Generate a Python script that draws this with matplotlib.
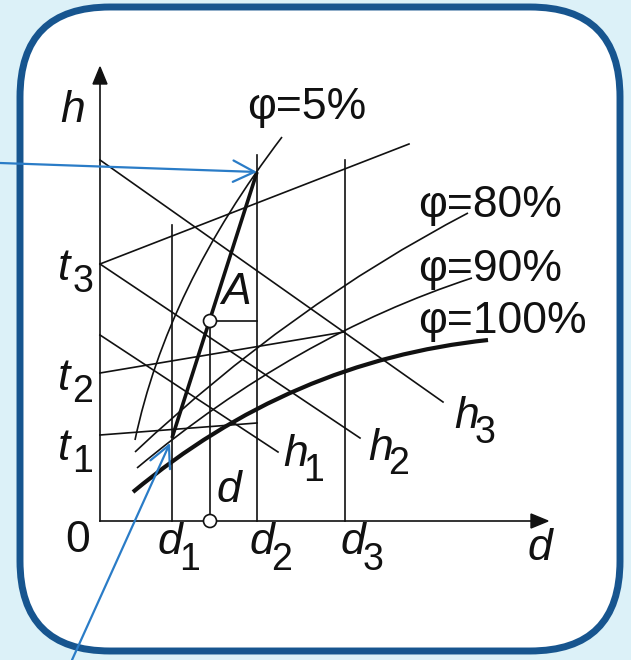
import matplotlib
matplotlib.use("Agg")
import matplotlib.pyplot as plt
from matplotlib.patches import FancyBboxPatch, Polygon, Circle, PathPatch
from matplotlib.path import Path

# ---- diagram data (d along x, h along y, origin at the axes' crossing) ----
d_names = ["d_1", "d", "d_2", "d_3"]
d_values = [72, 110, 157, 245]
d_tops = [296, 200, 366, 361]

t_names = ["t_1", "t_2", "t_3"]
t_start = [86, 148, 257]          # isotherm intercepts on the h axis
t_end_d = [157, 244, 309]
t_end_h = [98, 189, 377]

h_names = ["h_1", "h_2", "h_3"]
h_start = [186, 257, 361]         # enthalpy line intercepts on the h axis
h_end_d = [178, 260, 343]
h_end_h = [69, 83, 119]

phi_labels = ["φ=5%", "φ=80%", "φ=90%", "φ=100%"]
phi_label_pos = [(207, 414), (390, 316), (390, 251), (402, 199)]
phi_p0 = [(35, 81), (35, 69), (37, 53), (33, 29)]
phi_ctrl = [(67, 233), (190, 215), (195, 185), (190, 160)]
phi_p2 = [(182, 384), (368, 308), (372, 243), (388, 181)]
phi_lw = [1.2, 1.2, 1.2, 3.0]

point_1 = (72, 83)
point_A = (110, 200)
point_2 = (157, 349)

h_axis_top = 454
d_axis_end = 448

BLUE = "#2a7cc7"
FRAME = "#17558f"
BG = "#dcf1f8"

fig = plt.figure(figsize=(6.31, 6.60), dpi=100, facecolor=BG)
ax = fig.add_axes([0, 0, 1, 1])
ax.set_xlim(-100, 531)
ax.set_ylim(-139, 521)
ax.set_aspect("equal")
ax.axis("off")

frame = FancyBboxPatch((-80, -130), 600, 644,
                       boxstyle="round,pad=0,rounding_size=90",
                       facecolor="white", edgecolor=FRAME, lw=5, zorder=0)
ax.add_patch(frame)

K = "#111111"
LW = 1.2

# axes with filled arrowheads
ax.plot([0, 0], [0, h_axis_top - 14], color=K, lw=LW)
ax.plot([0, d_axis_end - 14], [0, 0], color=K, lw=LW)
ax.add_patch(Polygon([(0, h_axis_top), (-7, h_axis_top - 17), (7, h_axis_top - 17)],
                     closed=True, color=K, zorder=3))
ax.add_patch(Polygon([(d_axis_end, 0), (d_axis_end - 17, 7), (d_axis_end - 17, -7)],
                     closed=True, color=K, zorder=3))

# constant moisture content lines
for dv, top in zip(d_values, d_tops):
    ax.plot([dv, dv], [0, top], color=K, lw=LW)
ax.plot([point_A[0], d_values[2]], [point_A[1], point_A[1]], color=K, lw=LW)

# isotherms
for s, ed, eh in zip(t_start, t_end_d, t_end_h):
    ax.plot([0, ed], [s, eh], color=K, lw=LW)

# enthalpy lines
for s, ed, eh in zip(h_start, h_end_d, h_end_h):
    ax.plot([0, ed], [s, eh], color=K, lw=LW)

# relative humidity curves
for p0, c, p2, lw in zip(phi_p0, phi_ctrl, phi_p2, phi_lw):
    path = Path([p0, c, p2], [Path.MOVETO, Path.CURVE3, Path.CURVE3])
    ax.add_patch(PathPatch(path, facecolor="none", edgecolor=K, lw=lw,
                           capstyle="butt", zorder=2))

# heating / drying process line
ax.plot([point_1[0], point_2[0]], [point_1[1], point_2[1]], color=K, lw=2.6,
        solid_capstyle="butt", zorder=3)

# open markers
for xy in [point_A, (point_A[0], 0)]:
    ax.add_patch(Circle(xy, 6.5, facecolor="white", edgecolor=K, lw=1.2, zorder=4))

# blue pointers
arrow_kw = dict(arrowstyle="->,head_length=0.7,head_width=0.35", color=BLUE,
                lw=1.6, mutation_scale=22, shrinkA=0, shrinkB=0)
ax.annotate("", xy=point_2, xytext=(-100, 358), arrowprops=arrow_kw, zorder=5)
ax.annotate("", xy=(70, 78), xytext=(-28, -139), arrowprops=arrow_kw, zorder=5)

# labels
F = "Liberation Sans"
MAIN = 32
SUB = 27

def lab(x, y, s, italic=True, size=MAIN):
    ax.text(x, y, s, family=F, style="italic" if italic else "normal",
            fontsize=size, ha="center", va="center", color=K, zorder=6)

def sublab(x, y, main, sub, dx=20, dy=-17):
    lab(x, y, main)
    lab(x + dx, y + dy, sub, italic=False, size=SUB)

lab(-27, 411, "h")
lab(-22, -19, "0", italic=False)
lab(440, -28, "d")
lab(129, 30, "d")
lab(136, 229, "A")

for name, x in zip(["1", "2", "3"], [70, 162, 253]):
    sublab(x, -22, "d", name)
for name, y in zip(["1", "2", "3"], [73, 143, 253]):
    sublab(-36, y, "t", name, dx=19, dy=-14)
for name, (x, y) in zip(["1", "2", "3"], [(196, 66), (281, 73), (367, 104)]):
    sublab(x, y, "h", name, dx=18, dy=-16)

for s, (x, y) in zip(phi_labels, phi_label_pos):
    lab(x, y, s, italic=False)

fig.savefig("out.png", dpi=100, facecolor=BG)
